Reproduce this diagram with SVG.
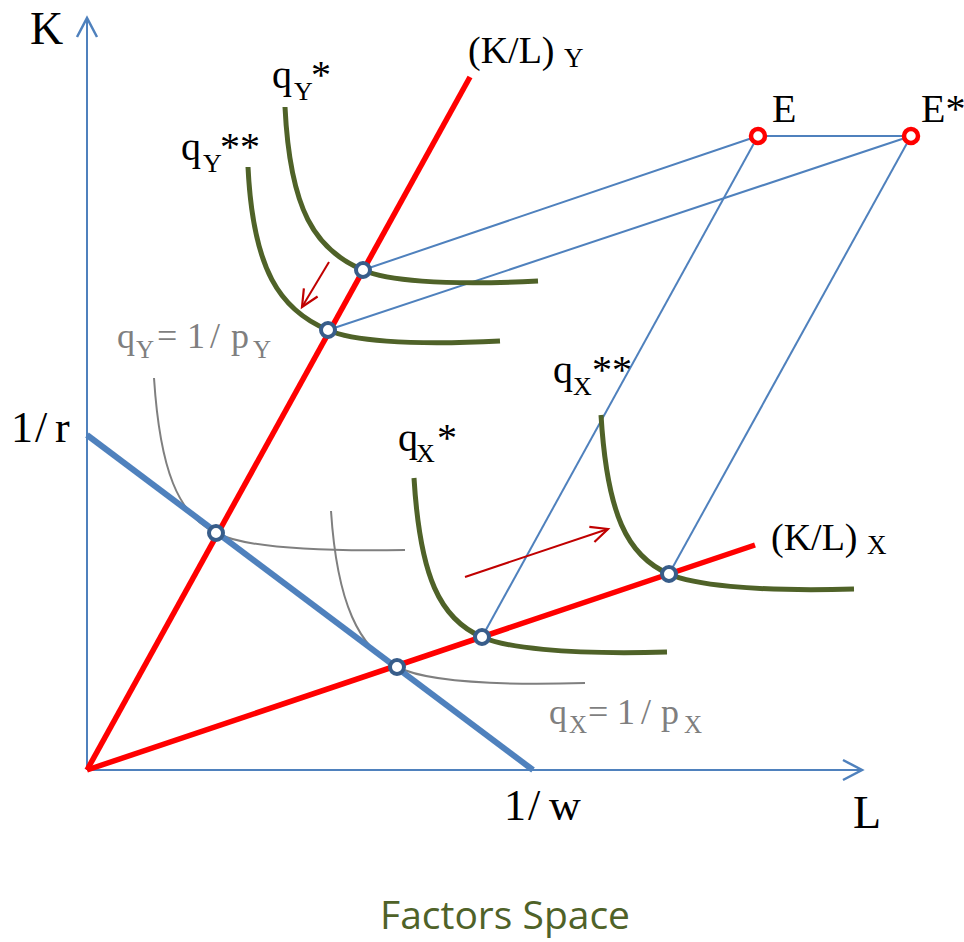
<svg xmlns="http://www.w3.org/2000/svg" width="964" height="942" viewBox="0 0 964 942">
<style>
.t{font-family:"Liberation Serif","Times New Roman",serif;fill:#000}
.gt{font-family:"Liberation Serif","Times New Roman",serif;fill:#7F7F7F;font-size:36px}
.ax{stroke:#4F81BD;stroke-width:2;fill:none}
.thin{stroke:#4F81BD;stroke-width:2;fill:none}
.bud{stroke:#4F81BD;stroke-width:6;fill:none}
.ray{stroke:#FF0000;stroke-width:5.5;fill:none}
.iso{stroke:#4F6228;stroke-width:5;fill:none;stroke-linecap:butt}
.gc{stroke:#7F7F7F;stroke-width:2;fill:none}
.mv{stroke:#C00000;stroke-width:2;fill:none}
.pt{fill:#fff;stroke:#385D8A;stroke-width:4}
.ep{fill:#fff;stroke:#FF0000;stroke-width:4.5}
</style>
<defs>
<marker id="axh" markerUnits="userSpaceOnUse" markerWidth="24" markerHeight="24" viewBox="0 0 24 24" refX="21" refY="12" orient="auto">
<path d="M2,2 L21,12 L2,22" fill="none" stroke="#4F81BD" stroke-width="2.5"/>
</marker>
<marker id="mvh" markerUnits="userSpaceOnUse" markerWidth="22" markerHeight="22" viewBox="0 0 22 22" refX="19" refY="11" orient="auto">
<path d="M2,3 L19,11 L2,19" fill="none" stroke="#C00000" stroke-width="2.2"/>
</marker>
</defs>
<rect width="964" height="942" fill="#fff"/>

<g id="connectors">
<line class="ax" x1="87" y1="770" x2="87" y2="18" marker-end="url(#axh)"/>
<line class="ax" x1="87" y1="770" x2="862" y2="770" marker-end="url(#axh)"/>
<path class="gc" d="M154,378 C160,470 178,515 216,533 C240,545 300,552 405,550"/>
<path class="gc" d="M331,511 C337,603 359,649 397,667 C421,679 481,686 585,683"/>
<line class="bud" x1="87" y1="435" x2="533" y2="770"/>
<line class="ray" x1="87" y1="770" x2="470" y2="77"/>
<line class="ray" x1="87" y1="770" x2="755" y2="545"/>
<line class="thin" x1="758" y1="136" x2="911" y2="136"/>
<line class="thin" x1="758" y1="136" x2="363" y2="270"/>
<line class="thin" x1="758" y1="136" x2="482" y2="637"/>
<line class="thin" x1="911" y1="136" x2="328" y2="330"/>
<line class="thin" x1="911" y1="136" x2="669" y2="574"/>
<path class="iso" d="M285,107 C290,210 315,250 363,270 C385,280 440,286 538,281"/>
<path class="iso" d="M248,167 C253,270 280,310 328,330 C350,340 405,346 500,341"/>
<path class="iso" d="M414,478 C420,577 440,619 482,637 C504,647 562,655 667,652"/>
<path class="iso" d="M601,415 C607,514 627,556 669,574 C691,584 749,592 854,589"/>
<line class="mv" x1="329" y1="262" x2="302" y2="307" marker-end="url(#mvh)"/>
<line class="mv" x1="465" y1="577" x2="608" y2="529" marker-end="url(#mvh)"/>
</g>

<g id="points">
<circle class="pt" cx="216" cy="533" r="7"/>
<circle class="pt" cx="397" cy="667" r="7"/>
<circle class="pt" cx="363" cy="270" r="7"/>
<circle class="pt" cx="328" cy="330" r="7"/>
<circle class="pt" cx="482" cy="637" r="7"/>
<circle class="pt" cx="669" cy="574" r="7"/>
<circle class="ep" cx="758" cy="136" r="7"/>
<circle class="ep" cx="911" cy="136" r="7"/>
</g>

<g id="labels">
<text class="t" x="30" y="44" font-size="46">K</text>
<text class="t" x="853" y="828" font-size="46">L</text>
<text class="t" font-size="44"><tspan x="11 35 55" y="442">1/r</tspan></text>
<text class="t" font-size="44"><tspan x="504 528 549" y="820">1/w</tspan></text>
<text class="t" x="468" y="63" font-size="38">(K/L)<tspan x="564" y="67" font-size="27">Y</tspan></text>
<text class="t" x="771" y="550" font-size="38">(K/L)<tspan x="867" y="554" font-size="27">X</tspan></text>
<text class="t" x="772" y="122" font-size="40">E</text>
<text class="t" x="921" y="122" font-size="40">E*</text>
<text class="t" x="272" y="88" font-size="40">q<tspan x="294" y="100" font-size="26">Y</tspan><tspan x="311" y="88">*</tspan></text>
<text class="t" x="181" y="160" font-size="40">q<tspan x="203" y="172" font-size="26">Y</tspan><tspan x="220" y="160">**</tspan></text>
<text class="t" x="553" y="383" font-size="40">q<tspan x="573" y="395" font-size="26">X</tspan><tspan x="592" y="383">**</tspan></text>
<text class="t" x="398" y="451" font-size="40">q<tspan x="416" y="462" font-size="26">X</tspan><tspan x="437" y="451">*</tspan></text>
<text class="gt" x="117" y="348">q<tspan x="136" y="358" font-size="25">Y</tspan><tspan x="157 187 210 231" y="348">=1/p</tspan><tspan x="253" y="358" font-size="25">Y</tspan></text>
<text class="gt" x="549" y="724">q<tspan x="569" y="733" font-size="25">X</tspan><tspan x="588 617 641 661" y="724">=1/p</tspan><tspan x="684" y="733" font-size="25">X</tspan></text>
<text x="505" y="929" font-family="'Open Sans','Liberation Sans',sans-serif" font-size="39" fill="#4F6228" text-anchor="middle">Factors Space</text>
</g>
</svg>
